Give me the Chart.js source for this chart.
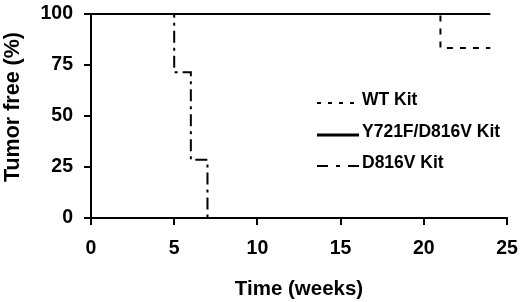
<!DOCTYPE html>
<html>
<head>
<meta charset="utf-8">
<script src="https://cdn.jsdelivr.net/npm/chart.js@4.4.1/dist/chart.umd.min.js"></script>
<style>
  html, body { margin: 0; padding: 0; background: #fff; }
  #wrap { width: 520px; height: 302px; position: relative; }
</style>
</head>
<body>
<div id="wrap"><canvas id="c"></canvas></div>
<script>
// Survie sans tumeur (Kaplan-Meier)
const wtWeeks     = [0, 21, 24];
const wtFree      = [100, 83.3, 83.3];
const dblWeeks    = [0, 24];
const dblFree     = [100, 100];
const d816vWeeks  = [0, 5, 6, 7];
const d816vFree   = [100, 71.4, 28.6, 0];

const xTicks = [0, 5, 10, 15, 20, 25];
const yTicks = [0, 25, 50, 75, 100];

const legendLabels = ['WT Kit', 'Y721F/D816V Kit', 'D816V Kit'];

const FONT = 'Liberation Sans, Arial, Helvetica, sans-serif';
const INK  = '#000';

const DASH_WT    = [6, 7];
const DASH_D816V = [12, 5, 3, 5];

function pts(xs, ys) {
  return xs.map((x, i) => ({ x: x, y: ys[i] }));
}

// Légende dessinée à l'intérieur de la zone du graphe
const insideLegend = {
  id: 'insideLegend',
  afterDatasetsDraw(chart) {
    const ctx = chart.ctx;
    const a = chart.chartArea;
    const x0 = a.left + 226;
    const rows = [
      { y: a.top + 86,  dash: [4, 7], w: 2 },
      { y: a.top + 118, dash: [],     w: 3 },
      { y: a.top + 149, dash: [11, 8, 4, 8], w: 2 },
    ];
    ctx.save();
    ctx.strokeStyle = INK;
    ctx.fillStyle = INK;
    ctx.font = 'bold 17.5px ' + FONT;
    ctx.textBaseline = 'middle';
    rows.forEach((r, i) => {
      ctx.beginPath();
      ctx.setLineDash(r.dash);
      ctx.lineWidth = r.w;
      ctx.moveTo(x0, r.y + 3);
      ctx.lineTo(x0 + 42, r.y + 3);
      ctx.stroke();
      ctx.setLineDash([]);
      ctx.fillText(legendLabels[i], x0 + 45, r.y);
    });
    ctx.restore();
  },
};

new Chart(document.getElementById('c'), {
  type: 'line',
  data: {
    datasets: [
      {
        label: legendLabels[1],
        data: pts(dblWeeks, dblFree),
        borderColor: INK,
        borderWidth: 2,
        stepped: true,
        pointRadius: 0,
        fill: false,
        clip: false,
        order: 0,
      },
      {
        label: legendLabels[0],
        data: pts(wtWeeks, wtFree),
        borderColor: INK,
        borderWidth: 2,
        borderDash: DASH_WT,
        stepped: true,
        pointRadius: 0,
        fill: false,
        clip: false,
        order: 1,
      },
      {
        label: legendLabels[2],
        data: pts(d816vWeeks, d816vFree),
        borderColor: INK,
        borderWidth: 2,
        borderDash: DASH_D816V,
        stepped: true,
        pointRadius: 0,
        fill: false,
        clip: false,
        order: 2,
      },
    ],
  },
  options: {
    parsing: false,
    animation: false,
    responsive: true,
    maintainAspectRatio: false,
    layout: { autoPadding: false, padding: { left: 0, right: 13, top: 14, bottom: 0 } },
    plugins: {
      legend: { display: false },
      tooltip: { enabled: false },
    },
    scales: {
      x: {
        type: 'linear',
        min: 0,
        max: 25,
        afterBuildTicks: (s) => { s.ticks = xTicks.map((v) => ({ value: v })); },
        afterFit: (s) => { s.height = 84; s.paddingLeft = 0; s.paddingRight = 0; },
        border: { display: true, color: INK, width: 2 },
        grid: { drawOnChartArea: false, drawTicks: true, tickLength: 7, color: INK, lineWidth: 2 },
        ticks: { color: INK, padding: 12, font: { family: FONT, size: 19.5, weight: 'bold' } },
        title: {
          display: true,
          text: 'Time (weeks)',
          color: INK,
          padding: { top: 0, bottom: 0 },
          font: { family: FONT, size: 20.5, weight: 'bold' },
        },
      },
      y: {
        type: 'linear',
        min: 0,
        max: 100,
        afterBuildTicks: (s) => { s.ticks = yTicks.map((v) => ({ value: v })); },
        afterFit: (s) => { s.width = 91; s.paddingTop = 0; s.paddingBottom = 0; },
        border: { display: true, color: INK, width: 2 },
        grid: { drawOnChartArea: false, drawTicks: true, tickLength: 7, color: INK, lineWidth: 2 },
        ticks: { color: INK, padding: 11, font: { family: FONT, size: 19.5, weight: 'bold' } },
        title: {
          display: true,
          text: '   Tumor free (%)',
          color: INK,
          padding: { top: 0, bottom: 0 },
          font: { family: FONT, size: 21.5, weight: 'bold' },
        },
      },
    },
  },
  plugins: [insideLegend],
});
</script>
</body>
</html>
